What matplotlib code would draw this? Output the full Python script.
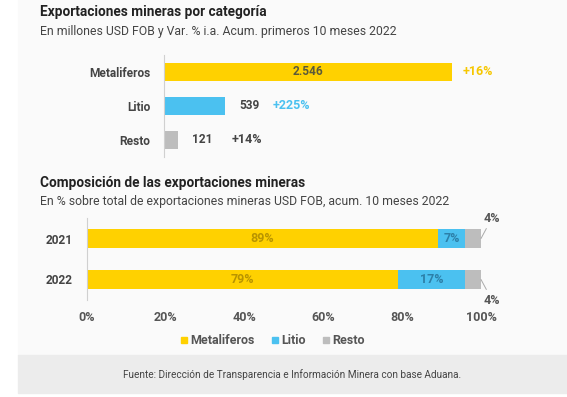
import matplotlib
matplotlib.use("Agg")
import matplotlib.pyplot as plt
from matplotlib.patches import Rectangle
from matplotlib.lines import Line2D

plt.rcParams['font.family'] = ['Roboto', 'DejaVu Sans']

# Data
categorias = ['Metaliferos', 'Litio', 'Resto']
exportaciones = [2546, 539, 121]          # millones USD FOB
etiquetas_valor = ['2.546', '539', '121']
variacion = ['+16%', '+225%', '+14%']

anios = ['2021', '2022']
metaliferos_pct = [89, 79]
litio_pct = [7, 17]
resto_pct = [4, 4]
ticks_pct = [0, 20, 40, 60, 80, 100]

# Style
amarillo = '#FFD100'
celeste = '#4BC1F0'
gris = '#BDBDBD'
texto = '#444444'
W, H = 567, 397


def rect(x0, y0, x1, y1):
    return [x0 / W, 1 - y1 / H, (x1 - x0) / W, (y1 - y0) / H]


fig = plt.figure(figsize=(W / 100, H / 100), dpi=100)
fig.patch.set_facecolor('white')
fig.add_artist(Rectangle((18 / W, 1 - 355 / H), 1, 355 / H, transform=fig.transFigure,
                         color='#FAFAFA', zorder=-2))
fig.add_artist(Rectangle((18 / W, 1 - 393 / H), 1, 38 / H, transform=fig.transFigure,
                         color='#ECECEC', zorder=-1))

# Titles
fig.text(40 / W, 1 - 12 / H, 'Exportaciones mineras por categoría', fontsize=9.8,
         fontweight='bold', color='#222222', va='center')
fig.text(40 / W, 1 - 31 / H, 'En millones USD FOB y Var. % i.a. Acum. primeros 10 meses 2022',
         fontsize=8.8, color=texto, va='center')
fig.text(40 / W, 1 - 183 / H, 'Composición de las exportaciones mineras', fontsize=9.8,
         fontweight='bold', color='#222222', va='center')
fig.text(40 / W, 1 - 201 / H, 'En % sobre total de exportaciones mineras USD FOB, acum. 10 meses 2022',
         fontsize=8.8, color=texto, va='center')

# Top chart
ax1 = fig.add_axes(rect(164, 55, 452, 157))
ax1.set_facecolor('none')
colores = [amarillo, celeste, gris]
y = list(range(len(categorias)))
ax1.barh(y, exportaciones, height=0.53, color=colores)
ax1.set_xlim(0, max(exportaciones))
ax1.set_ylim(2.5, -0.5)
ax1.set_yticks(y)
ax1.set_yticklabels(categorias, fontsize=8.6, fontweight='bold', color=texto)
ax1.tick_params(axis='y', length=0, pad=10)
ax1.set_xticks([])
for s in ['top', 'right', 'bottom']:
    ax1.spines[s].set_visible(False)
ax1.spines['left'].set_color('#D0D0D0')

var_colores = ['#F6C700', '#4BC1F0', texto]
var_offset = [11, 48, 54]
for i, (v, lab, var) in enumerate(zip(exportaciones, etiquetas_valor, variacion)):
    if i == 0:
        ax1.text(v / 2, i, lab, ha='center', va='center', fontsize=8.6,
                 fontweight='bold', color='#5a5a3a')
    else:
        ax1.annotate(lab, (v, i), xytext=(14, 0), textcoords='offset pixels',
                     ha='left', va='center', fontsize=8.6, fontweight='bold', color=texto)
    ax1.annotate(var, (v, i), xytext=(var_offset[i], 0), textcoords='offset pixels',
                 ha='left', va='center', fontsize=9, fontweight='bold', color=var_colores[i],
                 annotation_clip=False)

# Bottom chart
ax2 = fig.add_axes(rect(87, 218, 481, 300))
ax2.set_facecolor('none')
y2 = list(range(len(anios)))
left_litio = metaliferos_pct
left_resto = [a + b for a, b in zip(metaliferos_pct, litio_pct)]
ax2.barh(y2, metaliferos_pct, height=0.44, color=amarillo)
ax2.barh(y2, litio_pct, left=left_litio, height=0.44, color=celeste)
ax2.barh(y2, resto_pct, left=left_resto, height=0.44, color=gris)
ax2.set_xlim(0, 100)
ax2.set_ylim(1.5, -0.5)
ax2.set_yticks(y2)
ax2.set_yticklabels(anios, fontsize=8.6, fontweight='bold', color=texto)
ax2.set_xticks(ticks_pct)
ax2.set_xticklabels([f'{t}%' for t in ticks_pct], fontsize=9, fontweight='bold', color='#555555')
ax2.tick_params(axis='y', length=0, pad=10)
ax2.tick_params(axis='x', length=0, pad=8)
for s in ['top', 'right', 'bottom']:
    ax2.spines[s].set_visible(False)
ax2.spines['left'].set_color('#D0D0D0')

for i in y2:
    ax2.text(metaliferos_pct[i] / 2, i, f'{metaliferos_pct[i]}%', ha='center', va='center',
             fontsize=9, fontweight='bold', color='#B89400')
    ax2.text(left_litio[i] + litio_pct[i] / 2, i, f'{litio_pct[i]}%', ha='center', va='center',
             fontsize=9, fontweight='bold', color='#2C7FA8')
    total = left_resto[i] + resto_pct[i]
    dy = 14 if i == 0 else -14
    ax2.annotate(f'{resto_pct[i]}%', (total, i), xytext=(11, dy), textcoords='offset pixels',
                 ha='center', va='bottom' if i == 0 else 'top', fontsize=9, fontweight='bold',
                 color='#555555', annotation_clip=False,
                 arrowprops=dict(arrowstyle='-', color='#AAAAAA', lw=0.7,
                                 shrinkA=1, shrinkB=0))

# Legend
handles = [Line2D([], [], marker='s', linestyle='none', markersize=5, color=c) for c in colores]
fig.legend(handles, categorias, loc='center', bbox_to_anchor=(272 / W, 1 - 341 / H), ncol=3,
           frameon=False, handletextpad=0.1, columnspacing=1.2, handlelength=0.8,
           prop={'size': 9, 'weight': 'bold'}, labelcolor='#555555')

fig.text(292 / W, 1 - 375 / H, 'Fuente: Dirección de Transparencia e Información Minera con base Aduana.',
         fontsize=7.2, color=texto, ha='center', va='center')

fig.savefig('out.png', dpi=100)
